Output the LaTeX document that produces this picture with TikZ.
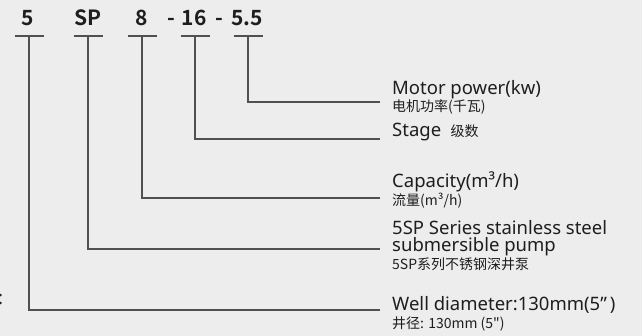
\documentclass[tikz,border=0pt]{standalone}
\usepackage{fontspec}
\setmainfont{Noto Sans}
\newfontfamily\cjk{Noto Sans CJK SC}
\newfontfamily\codefont{Noto Sans CJK SC Bold}
\definecolor{bg}{HTML}{EDEDED}
\definecolor{ln}{HTML}{505050}
\definecolor{tx}{HTML}{1E1E1E}
\begin{document}
\begin{tikzpicture}[x=1pt,y=-1pt,
  code/.style={font=\codefont\fontsize{21}{22}\selectfont, text=tx, inner sep=0pt, anchor=base},
  big/.style={font=\fontsize{18.5}{17}\selectfont, text=tx, inner sep=0pt, anchor=base west, align=left},
  small/.style={font=\cjk\fontsize{14}{15}\selectfont, text=tx, inner sep=0pt, anchor=base west},
  bar/.style={draw=ln, line width=1.5pt},
  conn/.style={draw=ln, line width=1.5pt}]
\fill[bg] (0,0) rectangle (642,336);
\useasboundingbox (0,0) rectangle (642,336);
% code labels
\node[code] (c5) at (28,26) {5};
\node[code] (cSP) at (88,26) {SP};
\node[code] (c8) at (142,26) {8};
\node[code] (d1) at (171,26) {-};
\node[code] (c16) at (194,26) {16};
\node[code] (d2) at (219,26) {-};
\node[code] (c55) at (247,26) {5.5};
% bar coordinates
\coordinate (b5) at (29,36);
\coordinate (bSP) at (88,36);
\coordinate (b8) at (142,36);
\coordinate (b16) at (195,36);
\coordinate (b55) at (248,36);
\foreach \b in {b5,bSP,b8,b16,b55}
  \draw[bar] ([xshift=-14.5]\b) -- ([xshift=14.5]\b);
% end coordinates
\coordinate (e55) at (380,102);
\coordinate (e16) at (380,139);
\coordinate (e8) at (380,198);
\coordinate (eSP) at (380,249);
\coordinate (e5) at (380,310);
\draw[conn] (b55) |- (e55);
\draw[conn] (b16) |- (e16);
\draw[conn] (b8) |- (e8);
\draw[conn] (bSP) |- (eSP);
\draw[conn] (b5) |- (e5);
% descriptions
\node[big] (t55) at (392,95) {Motor power(kw)};
\node[small] (s55) at (392,112) {电机功率(千瓦)};
\node[big] (t16) at (392,137) {Stage};
\node[small] (s16) at (t16.base east) [xshift=9pt] {级数};
\node[big] (t8) at (392,188) {Capacity(m³/h)};
\node[small] (s8) at (392,206) {流量(m³/h)};
\node[big] (tSP) at (392,235) {5SP Series stainless steel};
\node[big] (tSP2) at (392,252) {submersible pump};
\node[small] (sSP) at (392,270) {5SP系列不锈钢深井泵};
\node[big] (t5) at (392,311) {Well diameter:130mm(5\char"22\,)};
\node[small] (s5) at (392,328) {井径: 130mm (5\char"22)};
\node[font=\fontsize{18.5}{17}\selectfont, text=tx, inner sep=0pt, anchor=base] (colon) at (0.5,305) {:};
\end{tikzpicture}
\end{document}
